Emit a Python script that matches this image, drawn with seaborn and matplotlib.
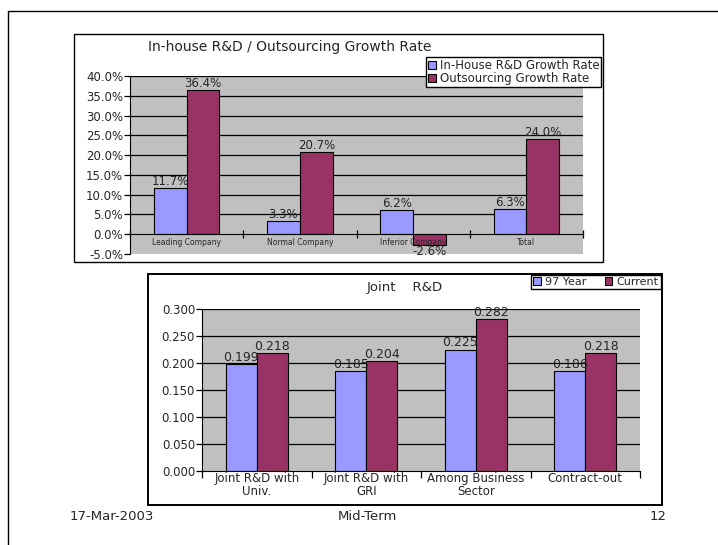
import matplotlib
matplotlib.use("Agg")
import matplotlib.pyplot as plt
from matplotlib.patches import Rectangle
from matplotlib.lines import Line2D
import numpy as np
import pandas as pd
import seaborn as sns

# ---- data -------------------------------------------------------------
growth_categories = ["Leading Company", "Normal Company", "Inferior Company", "Total"]
growth_series = ["In-House R&D Growth Rate", "Outsourcing Growth Rate"]
inhouse_growth = [11.7, 3.3, 6.2, 6.3]        # percent
outsourcing_growth = [36.4, 20.7, -2.6, 24.0]  # percent
growth_ticks = [-5, 0, 5, 10, 15, 20, 25, 30, 35, 40]

joint_categories = ["Joint R&D with\nUniv.", "Joint R&D with\nGRI",
                    "Among Business\nSector", "Contract-out"]
joint_series = ["97 Year", "Current"]
joint_97 = [0.199, 0.185, 0.225, 0.186]
joint_current = [0.218, 0.204, 0.282, 0.218]
joint_ticks = [0.0, 0.05, 0.10, 0.15, 0.20, 0.25, 0.30]

footer_left, footer_mid, footer_right = "17-Mar-2003", "Mid-Term", "12"

# ---- styling ----------------------------------------------------------
sns.set_style("white")
plt.rcParams["font.family"] = ["DejaVu Sans"]
BLUE, PLUM, GREY = "#9999FF", "#993366", "#C0C0C0"
W, H = 718, 545

fig = plt.figure(figsize=(W / 100, H / 100), dpi=100)


def fx(px):
    return px / W


def fy(py):
    return (H - py) / H


# slide frame
fig.add_artist(Line2D([fx(8), fx(8)], [0, fy(11)], color="black", lw=1))
fig.add_artist(Line2D([fx(8), 1], [fy(11), fy(11)], color="black", lw=1))

# chart boxes
fig.add_artist(Rectangle((fx(74), fy(262)), fx(603) - fx(74), fy(34) - fy(262),
                         transform=fig.transFigure, fill=False, ec="black", lw=1))
fig.add_artist(Rectangle((fx(148), fy(505)), fx(662) - fx(148), fy(274) - fy(505),
                         transform=fig.transFigure, fill=False, ec="black", lw=1.4))


def long_frame(cats, names, a, b):
    return pd.DataFrame({
        "category": cats * 2,
        "series": [names[0]] * len(cats) + [names[1]] * len(cats),
        "value": list(a) + list(b),
    })


def gridlines(ax, ticks):
    # horizontal value lines kept beneath the bars; axis text stays on top
    for t in ticks:
        ax.axhline(t, color="black", lw=0.9, zorder=0.5)
    ax.set_axisbelow(False)


# ---- top chart: growth rates ------------------------------------------
ax1 = fig.add_axes([fx(130), fy(254), fx(583) - fx(130), fy(76) - fy(254)])
df1 = long_frame(growth_categories, growth_series, inhouse_growth, outsourcing_growth)
sns.barplot(data=df1, x="category", y="value", hue="series", ax=ax1,
            palette={growth_series[0]: BLUE, growth_series[1]: PLUM},
            width=0.58, edgecolor="black", linewidth=0.8, saturation=1)
ax1.set_facecolor(GREY)
ax1.set_xlim(-0.5, 3.5)
ax1.set_ylim(-5, 40)
ax1.set_yticks(growth_ticks)
ax1.set_yticklabels([f"{t:.1f}%" for t in growth_ticks], fontsize=8.5)
gridlines(ax1, [t for t in growth_ticks if t > 0])
ax1.set_xlabel("")
ax1.set_ylabel("")
for s in ("top", "right"):
    ax1.spines[s].set_visible(False)
ax1.spines["bottom"].set_position(("data", 0))
ax1.spines["bottom"].set_color("black")
ax1.spines["left"].set_color("black")
ax1.tick_params(axis="y", left=True, length=4, width=0.9, color="black", pad=1)
ax1.tick_params(axis="x", which="major", length=0, labelsize=5.5, pad=3)
ax1.set_xticks([-0.5, 0.5, 1.5, 2.5, 3.5], minor=True)
ax1.tick_params(axis="x", which="minor", bottom=True, direction="inout",
                length=6, width=0.9, color="black")
for cont, vals in zip(ax1.containers, [inhouse_growth, outsourcing_growth]):
    ax1.bar_label(cont, labels=[f"{v:.1f}%" for v in vals], padding=0, fontsize=8.5)
h1, l1 = ax1.get_legend_handles_labels()
ax1.legend(h1, l1, loc="upper right", bbox_to_anchor=(fx(601), fy(57)),
           bbox_transform=fig.transFigure, fontsize=8.5, frameon=True,
           fancybox=False, edgecolor="black", framealpha=1, borderpad=0.15,
           handlelength=0.7, handleheight=0.7, handletextpad=0.3,
           labelspacing=0.05, borderaxespad=0)
fig.text(fx(290), fy(47), "In-house R&D / Outsourcing Growth Rate",
         ha="center", va="center", fontsize=10)

# ---- bottom chart: joint R&D ------------------------------------------
ax2 = fig.add_axes([fx(202), fy(471), fx(640) - fx(202), fy(309) - fy(471)])
df2 = long_frame(joint_categories, joint_series, joint_97, joint_current)
sns.barplot(data=df2, x="category", y="value", hue="series", ax=ax2,
            palette={joint_series[0]: BLUE, joint_series[1]: PLUM},
            width=0.57, edgecolor="black", linewidth=0.8, saturation=1)
ax2.set_facecolor(GREY)
ax2.set_xlim(-0.5, 3.5)
ax2.set_ylim(0, 0.3)
ax2.set_yticks(joint_ticks)
ax2.set_yticklabels([f"{t:.3f}" for t in joint_ticks], fontsize=8.5)
gridlines(ax2, joint_ticks[1:])
ax2.set_xlabel("")
ax2.set_ylabel("")
for s in ("top", "right"):
    ax2.spines[s].set_visible(False)
ax2.spines["bottom"].set_color("black")
ax2.spines["left"].set_color("black")
ax2.tick_params(axis="y", left=True, length=4, width=0.9, color="black", pad=1)
ax2.tick_params(axis="x", which="major", length=0, labelsize=8.5, pad=1)
for lab in ax2.get_xticklabels():
    lab.set_linespacing(0.95)
ax2.set_xticks([-0.5, 0.5, 1.5, 2.5, 3.5], minor=True)
ax2.tick_params(axis="x", which="minor", bottom=True, direction="out",
                length=5, width=0.9, color="black")
for cont, vals in zip(ax2.containers, [joint_97, joint_current]):
    ax2.bar_label(cont, labels=[f"{v:.3f}" for v in vals], padding=0, fontsize=9)
h2, l2 = ax2.get_legend_handles_labels()
ax2.legend(h2, l2, loc="upper right", bbox_to_anchor=(fx(661), fy(275)),
           bbox_transform=fig.transFigure, ncol=2, fontsize=8, frameon=True,
           fancybox=False, edgecolor="black", framealpha=1, borderpad=0.2,
           handlelength=0.7, handleheight=0.7, handletextpad=0.4,
           columnspacing=1.6, borderaxespad=0)
fig.text(fx(405), fy(288), "Joint    R&D", ha="center", va="center", fontsize=9.5)

# ---- footer -----------------------------------------------------------
fig.text(fx(70), fy(517), footer_left, ha="left", va="center", fontsize=9.5)
fig.text(fx(367), fy(517), footer_mid, ha="center", va="center", fontsize=9.5)
fig.text(fx(667), fy(517), footer_right, ha="right", va="center", fontsize=9.5)

fig.savefig("out.png", dpi=100, facecolor="white")
